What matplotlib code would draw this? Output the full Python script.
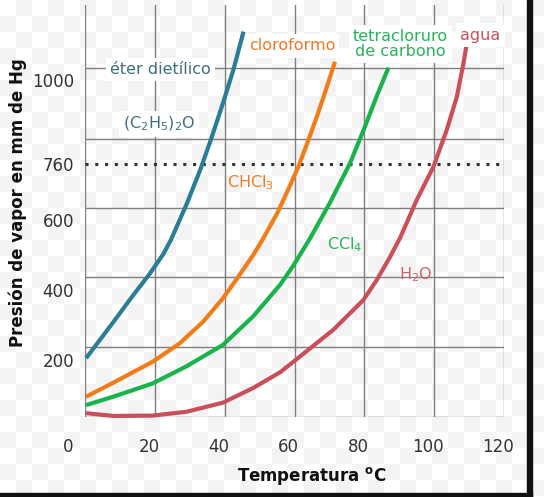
import numpy as np
import matplotlib
matplotlib.use("Agg")
import matplotlib.pyplot as plt
from matplotlib.transforms import ScaledTranslation
from matplotlib.patches import Rectangle

# ----------------------------------------------------------------------------------------------------------------------
# Data: temperature (C) vs vapour pressure (mm Hg)

eter_t = [0.3, 8.1, 13.8, 18.6, 22.4, 24.6, 29.1, 33.0, 35.8, 39.2, 42.5, 45.4]
eter_p = [205, 308, 385, 447, 502, 543, 645, 743, 822, 924, 1029, 1138]

cloro_t = [0.3, 8.1, 19.4, 27.2, 33.9, 39.5, 43.5, 48.2, 51.1, 55.2, 58.7, 61.1, 63.5, 66.4, 68.8, 71.6]
cloro_p = [95, 135, 195, 248, 310, 376, 432, 500, 548, 622, 698, 752, 815, 895, 966, 1052]

tetra_t = [0.3, 8.1, 19.4, 29.1, 39.5, 48.2, 55.9, 59.7, 64.5, 70.2, 75.9, 80.2, 83.6, 86.9]
tetra_p = [71, 95, 133, 182, 243, 325, 415, 470, 548, 650, 762, 867, 955, 1035]

agua_t = [0.3, 8.1, 19.4, 29.1, 39.5, 48.2, 55.9, 59.7, 71.1, 79.7, 83.6, 87.4, 90.3,
          95.0, 99.8, 103.6, 106.5, 108.4, 109.2]
agua_p = [48, 40, 41, 52, 78, 120, 165, 195, 286, 371, 429, 495, 550,
          657, 752, 857, 952, 1048, 1095]

x_ticks = [0, 20, 40, 60, 80, 100, 120]
y_ticks = [200, 400, 600, 760, 1000]
y_grid = [37, 237, 437, 634, 831, 1034]
p_normal = 760

# ----------------------------------------------------------------------------------------------------------------------

fig = plt.figure(figsize=(5.44, 4.97), dpi=100)

# Faint checkerboard backdrop (transparent image look)
cell = 16
rows, cols = 497 // cell + 1, 544 // cell + 1
board = (np.add.outer(np.arange(rows), np.arange(cols)) % 2).astype(float)
board = np.kron(board, np.ones((cell, cell)))[:497, :544]
rgb = np.where(board[..., None] > 0, 0.955, 1.0) * np.ones((1, 1, 3))
fig.figimage(rgb, 0, 0, zorder=-10)

ax = fig.add_axes([85 / 544, 1 - 417 / 497, (504 - 85) / 544, (417 - 5) / 497])
ax.patch.set_alpha(0)
for s in ax.spines.values():
    s.set_visible(False)

ax.set_xlim(0, 120)
ax.set_ylim(37, 1214)

# Grid
for x in x_ticks:
    ax.axvline(x, color="#7f7f7f", lw=1.0, zorder=1)
for y in y_grid:
    ax.axhline(y, color="#7f7f7f", lw=1.0, zorder=1)

# Normal boiling pressure
ax.axhline(p_normal, color="#333333", lw=2.2, linestyle=(0, (1, 2.2)), zorder=2)

# Curves
curve_kw = dict(lw=3, solid_capstyle="butt", solid_joinstyle="round", zorder=3, clip_on=False)
ax.plot(eter_t, eter_p, color="#2a7d95", **curve_kw)
ax.plot(cloro_t, cloro_p, color="#f27c17", **curve_kw)
ax.plot(tetra_t, tetra_p, color="#19b34c", **curve_kw)
ax.plot(agua_t, agua_p, color="#c94f5a", **curve_kw)

# Labels
box = dict(facecolor="white", edgecolor="none", pad=3)
ax.text(21.5, 1029, "éter dietílico", color="#3e6f80", fontsize=11.5,
        ha="center", va="center", bbox=box, zorder=4)
ax.text(21.2, 874, r"(C$_2$H$_5$)$_2$O", color="#3e6f80", fontsize=11.5,
        ha="center", va="center", bbox=box, zorder=4)
ax.text(59.3, 1097, "cloroformo", color="#f07a24", fontsize=11.5,
        ha="center", va="center", bbox=box, zorder=4)
ax.text(90.3, 1103, "tetracloruro\nde carbono", color="#27b358", fontsize=11.5,
        ha="center", va="center", linespacing=0.95, bbox=box, zorder=4)
ax.text(113.2, 1128, "agua", color="#c9505c", fontsize=11.5,
        ha="center", va="center", bbox=box, zorder=4)
ax.text(47.3, 706, r"CHCl$_3$", color="#f07a24", fontsize=11.5, ha="center", va="center", zorder=4)
ax.text(74.5, 529, r"CCl$_4$", color="#27b358", fontsize=11.5, ha="center", va="center", zorder=4)
ax.text(94.8, 443, r"H$_2$O", color="#d0606a", fontsize=11.5, ha="center", va="center", zorder=4)

# Ticks
ax.set_xticks(x_ticks)
ax.set_yticks(y_ticks)
ax.tick_params(length=0, labelsize=12, colors="#333333")
ax.tick_params(axis="x", pad=15)
ax.tick_params(axis="y", pad=8)
for i, lab in enumerate(ax.get_xticklabels()):
    dx = -17 if i == 0 else -6
    lab.set_transform(lab.get_transform() + ScaledTranslation(dx / 100, 0, fig.dpi_scale_trans))

fig.text(312 / 544, 1 - 476 / 497, r"Temperatura $^{\mathbf{o}}$C", fontsize=12,
         fontweight="bold", color="#111111", ha="center", va="center")
fig.text(18 / 544, 1 - 203 / 497, "Presión de vapor en mm de Hg", fontsize=12,
         fontweight="bold", color="#111111", ha="center", va="center", rotation=90)

# Black frame pieces on right and bottom
fig.patches.append(Rectangle((527 / 544, 0), 5 / 544, 1, transform=fig.transFigure,
                             color="#111111", zorder=5))
fig.patches.append(Rectangle((0, 0), 532 / 544, 4 / 497, transform=fig.transFigure,
                             color="#111111", zorder=5))

fig.savefig("out.png", dpi=100)
